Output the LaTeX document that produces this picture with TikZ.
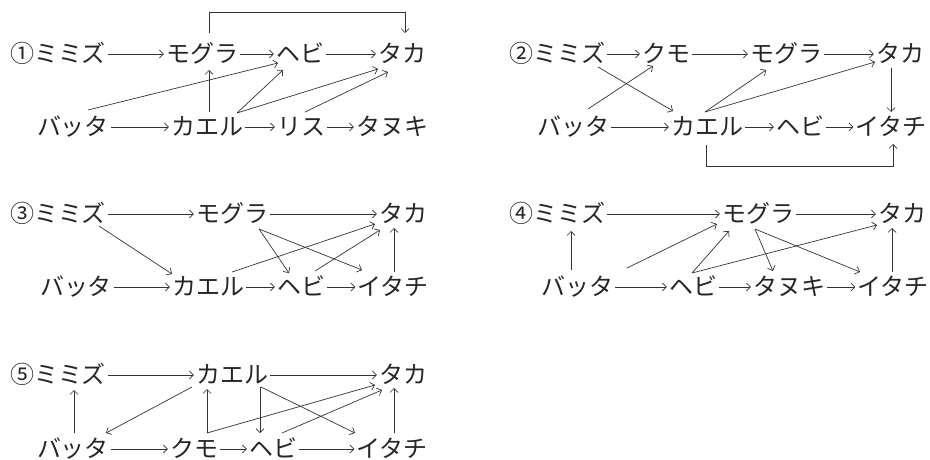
\documentclass[tikz,border=0pt]{standalone}
\usepackage{fontspec}
\setmainfont{Noto Sans CJK JP}
\usetikzlibrary{arrows.meta}

\tikzset{
  animal/.style={inner xsep=2pt, inner ysep=0pt, text height=17pt, text depth=0pt,
    font=\fontsize{24}{24}\selectfont, text=black!85},
  eat/.style={-{Straight Barb[length=4pt,width=8pt]}, line width=0.7pt, draw=black!80},
}

\begin{document}
\begin{tikzpicture}[x=1pt, y=-1pt]
  \useasboundingbox (0,0) rectangle (930,460);

  % Diagram 1
  \node[animal] (d1mimizu) at (58,54) {①ミミズ};
  \node[animal] (d1mogura) at (202,54) {モグラ};
  \node[animal] (d1hebi) at (300,54) {ヘビ};
  \node[animal] (d1taka) at (402,54) {タカ};
  \node[animal] (d1batta) at (73,127) {バッタ};
  \node[animal] (d1kaeru) at (207,127) {カエル};
  \node[animal] (d1risu) at (301,127) {リス};
  \node[animal] (d1tanuki) at (392,127) {タヌキ};
  \draw[eat] (d1mimizu) -- (d1mogura);
  \draw[eat] (d1mogura) -- (d1hebi);
  \draw[eat] (d1hebi) -- (d1taka);
  \draw[eat] (d1batta) -- (d1kaeru);
  \draw[eat] (d1kaeru) -- (d1risu);
  \draw[eat] (d1risu) -- (d1tanuki);
  \draw[eat] ([shift={(7,-21)}]d1mogura.center) -- ++(0,-21) -| ([shift={(3,-21)}]d1taka.center);
  \draw[eat] ([shift={(2,-15)}]d1kaeru.center) -- ([shift={(7,16)}]d1mogura.center);
  \draw[eat] ([shift={(15,-17)}]d1batta.center) -- ([shift={(-22,9)}]d1hebi.center);
  \draw[eat] ([shift={(30,-14)}]d1kaeru.center) -- ([shift={(-17,16)}]d1hebi.center);
  \draw[eat] ([shift={(30,-14)}]d1kaeru.center) -- ([shift={(-24,15)}]d1taka.center);
  \draw[eat] ([shift={(4,-15)}]d1risu.center) -- ([shift={(-14,18)}]d1taka.center);

  % Diagram 2
  \node[animal] (d2mimizu) at (557,54) {②ミミズ};
  \node[animal] (d2kumo) at (666,54) {クモ};
  \node[animal] (d2mogura) at (786,54) {モグラ};
  \node[animal] (d2taka) at (900,54) {タカ};
  \node[animal] (d2batta) at (573,127) {バッタ};
  \node[animal] (d2kaeru) at (707,127) {カエル};
  \node[animal] (d2hebi) at (800,127) {ヘビ};
  \node[animal] (d2itachi) at (891,127) {イタチ};
  \draw[eat] (d2mimizu) -- (d2kumo);
  \draw[eat] (d2kumo) -- (d2mogura);
  \draw[eat] (d2mogura) -- (d2taka);
  \draw[eat] (d2batta) -- (d2kaeru);
  \draw[eat] (d2kaeru) -- (d2hebi);
  \draw[eat] (d2hebi) -- (d2itachi);
  \draw[eat] ([shift={(41,13)}]d2mimizu.center) -- ([shift={(-34,-16)}]d2kaeru.center);
  \draw[eat] ([shift={(15,-18)}]d2batta.center) -- ([shift={(-13,12)}]d2kumo.center);
  \draw[eat] ([shift={(-2,-15)}]d2kaeru.center) -- ([shift={(-20,16)}]d2mogura.center);
  \draw[eat] ([shift={(-2,-15)}]d2kaeru.center) -- ([shift={(-25,8)}]d2taka.center);
  \draw[eat] ([shift={(-9,14)}]d2taka.center) -- ([shift={(0,-15)}]d2itachi.center);
  \draw[eat] ([shift={(-1,18)}]d2kaeru.center) -- ++(0,21) -| ([shift={(2,17)}]d2itachi.center);

  % Diagram 3
  \node[animal] (d3mimizu) at (58,214) {③ミミズ};
  \node[animal] (d3mogura) at (232,214) {モグラ};
  \node[animal] (d3taka) at (403,214) {タカ};
  \node[animal] (d3batta) at (76,287) {バッタ};
  \node[animal] (d3kaeru) at (208,287) {カエル};
  \node[animal] (d3hebi) at (301,287) {ヘビ};
  \node[animal] (d3itachi) at (393,287) {イタチ};
  \draw[eat] (d3mimizu) -- (d3mogura);
  \draw[eat] (d3mogura) -- (d3taka);
  \draw[eat] (d3batta) -- (d3kaeru);
  \draw[eat] (d3kaeru) -- (d3hebi);
  \draw[eat] (d3hebi) -- (d3itachi);
  \draw[eat] ([shift={(41,12)}]d3mimizu.center) -- ([shift={(-36,-13)}]d3kaeru.center);
  \draw[eat] ([shift={(27,15)}]d3mogura.center) -- ([shift={(-12,-14)}]d3hebi.center);
  \draw[eat] ([shift={(27,15)}]d3mogura.center) -- ([shift={(-31,-17)}]d3itachi.center);
  \draw[eat] ([shift={(24,-15)}]d3kaeru.center) -- ([shift={(-28,10)}]d3taka.center);
  \draw[eat] ([shift={(14,-16)}]d3hebi.center) -- ([shift={(-23,16)}]d3taka.center);
  \draw[eat] ([shift={(1,-15)}]d3itachi.center) -- ([shift={(-9,14)}]d3taka.center);

  % Diagram 4
  \node[animal] (d4mimizu) at (557,214) {④ミミズ};
  \node[animal] (d4mogura) at (758,214) {モグラ};
  \node[animal] (d4taka) at (902,214) {タカ};
  \node[animal] (d4batta) at (577,287) {バッタ};
  \node[animal] (d4hebi) at (693,287) {ヘビ};
  \node[animal] (d4tanuki) at (789,287) {タヌキ};
  \node[animal] (d4itachi) at (893,287) {イタチ};
  \draw[eat] (d4mimizu) -- (d4mogura);
  \draw[eat] (d4mogura) -- (d4taka);
  \draw[eat] (d4batta) -- (d4hebi);
  \draw[eat] (d4hebi) -- (d4tanuki);
  \draw[eat] (d4tanuki) -- (d4itachi);
  \draw[eat] ([shift={(-6,-17)}]d4batta.center) -- ([shift={(14,17)}]d4mimizu.center);
  \draw[eat] ([shift={(50,-19)}]d4batta.center) -- ([shift={(-41,10)}]d4mogura.center);
  \draw[eat] ([shift={(-1,-14)}]d4hebi.center) -- ([shift={(-29,17)}]d4mogura.center);
  \draw[eat] ([shift={(-1,-14)}]d4hebi.center) -- ([shift={(-25,11)}]d4taka.center);
  \draw[eat] ([shift={(-3,15)}]d4mogura.center) -- ([shift={(-16,-16)}]d4tanuki.center);
  \draw[eat] ([shift={(-3,15)}]d4mogura.center) -- ([shift={(-33,-15)}]d4itachi.center);
  \draw[eat] ([shift={(-1,-15)}]d4itachi.center) -- ([shift={(-10,14)}]d4taka.center);

  % Diagram 5
  \node[animal] (d5mimizu) at (58,375) {⑤ミミズ};
  \node[animal] (d5kaeru) at (232,375) {カエル};
  \node[animal] (d5taka) at (403,375) {タカ};
  \node[animal] (d5batta) at (73,449) {バッタ};
  \node[animal] (d5kumo) at (194,449) {クモ};
  \node[animal] (d5hebi) at (273,449) {ヘビ};
  \node[animal] (d5itachi) at (392,449) {イタチ};
  \draw[eat] (d5mimizu) -- (d5kaeru);
  \draw[eat] (d5kaeru) -- (d5taka);
  \draw[eat] (d5batta) -- (d5kumo);
  \draw[eat] (d5kumo) -- (d5hebi);
  \draw[eat] (d5hebi) -- (d5itachi);
  \draw[eat] ([shift={(1,-16)}]d5batta.center) -- ([shift={(16,15)}]d5mimizu.center);
  \draw[eat] ([shift={(-40,12)}]d5kaeru.center) -- ([shift={(33,-16)}]d5batta.center);
  \draw[eat] ([shift={(13,-16)}]d5kumo.center) -- ([shift={(-25,14)}]d5kaeru.center);
  \draw[eat] ([shift={(13,-16)}]d5kumo.center) -- ([shift={(-28,10)}]d5taka.center);
  \draw[eat] ([shift={(28,12)}]d5kaeru.center) -- ([shift={(-13,-16)}]d5hebi.center);
  \draw[eat] ([shift={(29,12)}]d5kaeru.center) -- ([shift={(-37,-16)}]d5itachi.center);
  \draw[eat] ([shift={(9,-16)}]d5hebi.center) -- ([shift={(-21,15)}]d5taka.center);
  \draw[eat] ([shift={(2,-16)}]d5itachi.center) -- ([shift={(-9,13)}]d5taka.center);
\end{tikzpicture}
\end{document}
